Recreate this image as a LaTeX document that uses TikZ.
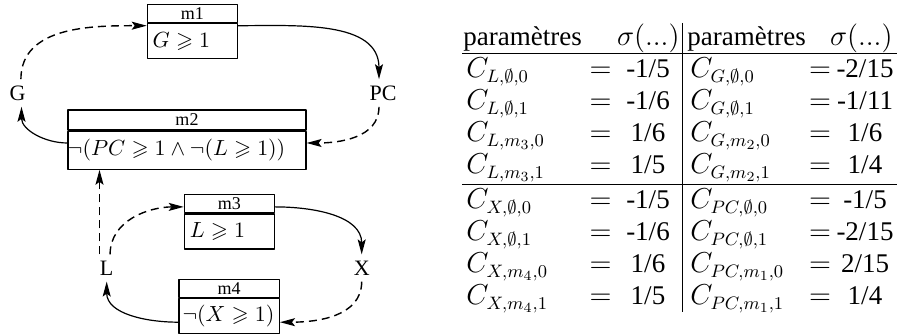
\documentclass[tikz,border=0pt]{standalone}
\usepackage[no-math]{fontspec}
\setmainfont{Liberation Serif}
\usepackage{amssymb}
\usetikzlibrary{positioning,arrows.meta}
\tikzset{
  mhead/.style={draw,line width=.6pt,inner sep=0pt,minimum height=9pt,font=\fontsize{9}{10}\selectfont},
  mbody/.style={draw,line width=.6pt,inner ysep=0pt,minimum height=17.5pt,align=flush left},
  var/.style={inner sep=3pt},
  plainconn/.style={->,line width=.6pt},
  dconn/.style={->,line width=.7pt,dash pattern=on 4pt off 2.5pt},
  cell/.style={inner sep=0pt,font=\fontsize{13.5}{16}\selectfont},
}
\begin{document}
\begin{tikzpicture}[x=.5pt,y=.5pt,>={Stealth[length=7.5pt,width=4pt,inset=1.5pt]},line join=round,font=\fontsize{11}{13}\selectfont]
	\useasboundingbox (0,0) rectangle (902,-335);
	% boxes
	\node[mhead,minimum width=45pt] (m1h) at (192.3,-13.5) {m1};
	\node[mbody,below=0pt of m1h,text width=39.6pt,inner xsep=2.7pt] (m1b) {$G\geqslant 1$};
	\node[mhead,minimum width=119pt,minimum height=10pt] (m2h) at (187,-120) {m2};
	\node[mbody,below=0pt of m2h,text width=119pt,inner xsep=0pt,minimum height=19pt] (m2b) {$\neg(PC\geqslant 1\wedge\neg(L\geqslant 1))$};
	\node[mhead,minimum width=45pt] (m3h) at (229.3,-203.9) {m3};
	\node[mbody,below=0pt of m3h,text width=39.3pt,inner xsep=2.85pt] (m3b) {$L\geqslant 1$};
	\node[mhead,minimum width=50.2pt] (m4h) at (229.2,-288.3) {m4};
	\node[mbody,below=0pt of m4h,text width=46.6pt,inner xsep=1.8pt] (m4b) {$\neg(X\geqslant 1)$};
	% variables
	\node[var] (G) at (17.5,-93) {G};
	\node[var] (PC) at (383,-93) {PC};
	\node[var] (L) at (106.7,-268) {L};
	\node[var] (X) at (361.7,-268) {X};
	% upper loop
	\draw[dconn] ([xshift=1.7pt]G.north) to[out=90,in=180] ([yshift=-1.3pt]m1b.north west);
	\draw[plainconn] ([yshift=-1.3pt]m1b.north east) to[out=0,in=90] ([xshift=-2pt]PC.north);
	\draw[dconn] ([xshift=-2pt]PC.south) to[out=-90,in=0] ([yshift=3.6pt]m2b.east);
	\draw[plainconn] ([yshift=3.6pt]m2b.west) to[out=180,in=-90] ([xshift=2pt]G.south);
	% lower loop
	\draw[dconn] ([xshift=-3.6pt]L.north) -- ([xshift=-3.6pt]L.north |- m2b.south);
	\draw[dconn] ([xshift=1.7pt]L.north) to[out=90,in=180] ([yshift=3.3pt]m3h.south west);
	\draw[plainconn] ([yshift=3.3pt]m3h.south east) to[out=0,in=90] (X.north);
	\draw[dconn] (X.south) to[out=-90,in=0] ([yshift=-3.1pt]m4b.east);
	\draw[plainconn] ([yshift=-3.1pt]m4b.west) to[out=180,in=-90] (L.south);
	% table
	\draw[line width=.5pt] (682.3,-23) -- (682.3,-312);
	\draw[line width=.5pt] (462,-53.3) -- (897,-53.3) (462,-184.3) -- (897,-184.3);
	\node[cell,anchor=base west] (h1) at (463,-46) {paramètres};
	\node[cell,anchor=base east] (s1) at (680,-46) {$\sigma(...)$};
	\node[cell,anchor=base west] (h2) at (687,-46) {paramètres};
	\node[cell,anchor=base east] (s2) at (893,-46) {$\sigma(...)$};
	\foreach \y/\nl/\vl/\nr/\vr [count=\i] in {
		78/{L,\emptyset,0}/{-1/5}/{G,\emptyset,0}/{-2/15},
		110/{L,\emptyset,1}/{-1/6}/{G,\emptyset,1}/{-1/11},
		142/{L,m_3,0}/{1/6}/{G,m_2,0}/{1/6},
		174/{L,m_3,1}/{1/5}/{G,m_2,1}/{1/4},
		209/{X,\emptyset,0}/{-1/5}/{PC,\emptyset,0}/{-1/5},
		241/{X,\emptyset,1}/{-1/6}/{PC,\emptyset,1}/{-2/15},
		273/{X,m_4,0}/{1/6}/{PC,m_1,0}/{2/15},
		305/{X,m_4,1}/{1/5}/{PC,m_1,1}/{1/4}}
	{
		\node[cell,anchor=base west] (nl\i) at (466,-\y) {$C_{\nl}$};
		\node[cell,anchor=base] (el\i) at (600.7,-\y) {$=$};
		\node[cell,anchor=base] (vl\i) at (648,-\y) {\vl};
		\node[cell,anchor=base west] (nr\i) at (690,-\y) {$C_{\nr}$};
		\node[cell,anchor=base] (er\i) at (820,-\y) {$=$};
		\node[cell,anchor=base] (vr\i) at (865,-\y) {\vr};
	}
\end{tikzpicture}
\end{document}
